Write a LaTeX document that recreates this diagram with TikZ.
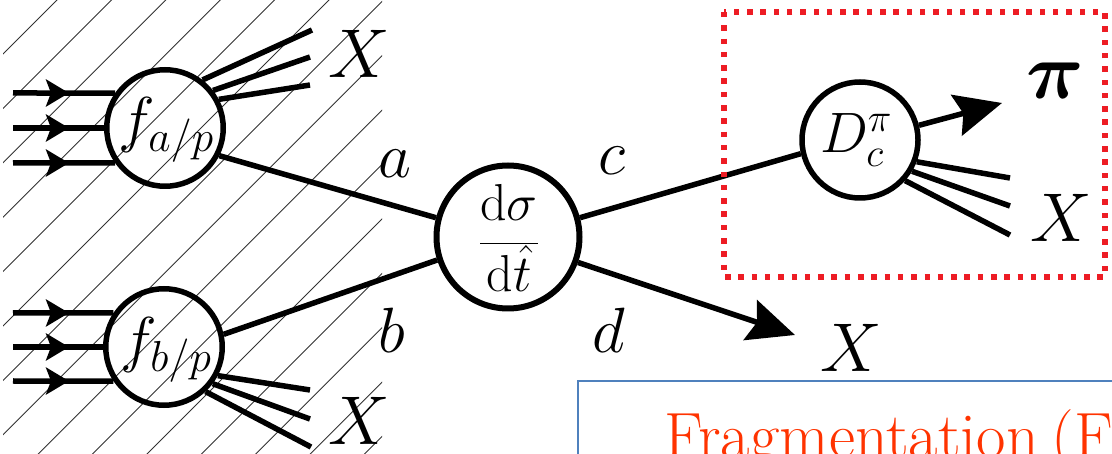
\RequirePackage{fix-cm}
\documentclass[tikz,border=0pt]{standalone}
\usetikzlibrary{arrows.meta,decorations.markings}
\definecolor{hatchgray}{RGB}{50,50,50}
\definecolor{boxred}{RGB}{237,28,36}
\definecolor{boxblue}{RGB}{79,129,189}
\definecolor{fragred}{RGB}{255,51,0}
\newcommand{\fs}[1]{\fontsize{#1}{#1}\selectfont}
\begin{document}
\begin{tikzpicture}[x=1pt,y=-1pt,
  line width=5.5pt,
  blob/.style={circle,draw,line width=5.5pt,minimum size=#1,inner sep=0pt},
  hatchline/.style={line width=0.9pt,draw=hatchgray},
  bigarrow/.style={-{Stealth[length=47pt,width=42pt,inset=7pt]}},
  inarrow/.style={postaction=decorate,decoration={markings,mark=at position 56pt with {\arrow{Stealth[length=23pt,width=27pt,inset=5pt]}}}},
  lab/.style={inner sep=0pt},
  redbox/.style={draw=boxred,line width=5.5pt,dash pattern=on 5.5pt off 7.8pt},
]
\useasboundingbox (0,0) rectangle (1112,454);

% hatched background
\begin{scope}
  \clip (3,0) rectangle (382,454);
  \foreach \k in {1,...,16} {
    \draw[hatchline] ({2.6+54.4*\k+5},-5) -- ({2.6+54.4*\k-459},459);
  }
\end{scope}

% circles
\node[blob=116.5pt] (fa) at (165,128) {};
\node[blob=116.5pt] (fb) at (164,347) {};
\node[blob=143pt,line width=6pt] (ds) at (508,237) {};
\node[blob=116pt] (D) at (860,140) {};

% circle labels
\node[lab] (fal) at (166,130) {\fs{62}$f_{a/p}$};
\node[lab] (fbl) at (166,350) {\fs{62}$f_{b/p}$};
\node[lab] (dsl) at (509,238) {\fs{52}$\displaystyle\frac{\mathrm{d}\sigma}{\mathrm{d}\hat{t}}$};
\node[lab] (Dl) at (856,140) {\fs{57}$D_c^{\pi}$};

% other labels
\node[lab] (X1) at (359,54) {\fs{69}$X$};
\node[lab] (X2) at (359,421) {\fs{69}$X$};
\node[lab] (la) at (395,164) {\fs{64}$a$};
\node[lab] (lb) at (392,330) {\fs{64}$b$};
\node[lab] (lc) at (612,161) {\fs{64}$c$};
\node[lab] (ld) at (609,330) {\fs{64}$d$};
\node[lab] (X3) at (851,348) {\fs{69}$X$};
\node[lab] (X4) at (1061,218) {\fs{69}$X$};
\node[lab] (pilab) at (1055,81) {\fs{80}{\boldmath$\pi$}};

% free ends
\coordinate (x1a) at (312,30);
\coordinate (x1b) at (310,57);
\coordinate (x1c) at (310,85);
\coordinate (x2a) at (310,390);
\coordinate (x2b) at (310,419);
\coordinate (x2c) at (311,447);
\coordinate (x4a) at (1010,178);
\coordinate (x4b) at (1010,206);
\coordinate (x4c) at (1010,235);
\coordinate (tipd) at (795,335);
\coordinate (tippi) at (1002,103);
\coordinate (ia1) at (13,93);
\coordinate (ia2) at (13,128);
\coordinate (ia3) at (13,163);
\coordinate (ib1) at (13,313);
\coordinate (ib2) at (13,347);
\coordinate (ib3) at (13,381);

% incoming partons
\draw[inarrow] (ia1) -- (fa.145);
\draw[inarrow] (ia2) -- (fa.180);
\draw[inarrow] (ia3) -- (fa.215);
\draw[inarrow] (ib1) -- (fb.146);
\draw[inarrow] (ib2) -- (fb.180);
\draw[inarrow] (ib3) -- (fb.214);

% remnants
\draw (fa.52) -- (x1a);
\draw (fa.38) -- (x1b);
\draw (fa.28) -- (x1c);
\draw (fb.-28) -- (x2a);
\draw (fb.-37) -- (x2b);
\draw (fb.-47) -- (x2c);
\draw (D.-21) -- (x4a);
\draw (D.-31) -- (x4b);
\draw (D.-42) -- (x4c);

% partons
\draw (fa.-27) -- (ds.165);
\draw (fb.12) -- (ds.198);
\draw (ds.15) -- (D.193);
\draw[bigarrow] (ds.-20) -- (tipd);
\draw[bigarrow] (D.14) -- (tippi);

% fragmentation frame
\draw[redbox] (724,12) rectangle (1105,277);

% text box
\begin{scope}
  \clip (576,379) rectangle (1112,454);
  \draw[draw=boxblue,line width=1.5pt] (578,381) rectangle (1130,470);
  \node[anchor=base west,inner sep=0pt,text=fragred] (frag) at (662,457) {\fs{64}Fragmentation\hspace{0.2em}(F};
\end{scope}
\end{tikzpicture}
\end{document}
